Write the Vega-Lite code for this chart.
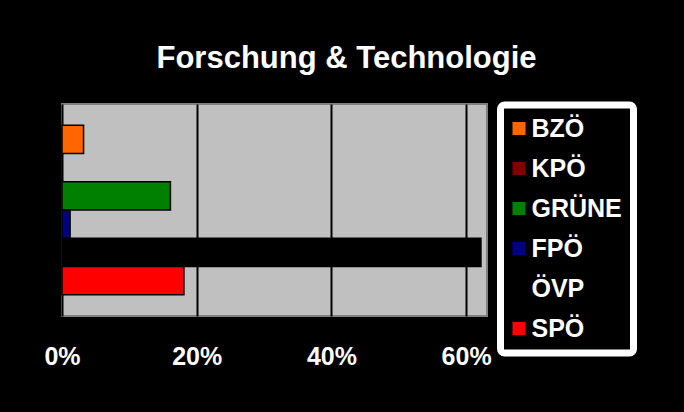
{
  "$schema": "https://vega.github.io/schema/vega-lite/v6.json",
  "autosize": "none",
  "width": 425,
  "height": 212,
  "padding": {"left": 62, "top": 104, "right": 197, "bottom": 96},
  "background": "#000000",
  "title": {
    "text": "Forschung & Technologie",
    "color": "#FFFFFF",
    "font": "Liberation Sans",
    "fontWeight": "bold",
    "fontSize": 31,
    "anchor": "middle",
    "dx": 72,
    "offset": 27
  },
  "data": {
    "values": [
      {"party": "BZÖ", "value": 0.032},
      {"party": "KPÖ", "value": 0.0},
      {"party": "GRÜNE", "value": 0.161},
      {"party": "FPÖ", "value": 0.012},
      {"party": "ÖVP", "value": 0.622},
      {"party": "SPÖ", "value": 0.181}
    ]
  },
  "mark": {"type": "bar", "stroke": "#000000", "strokeWidth": 1.5},
  "encoding": {
    "x": {
      "field": "value",
      "type": "quantitative",
      "scale": {"domain": [0, 0.631], "nice": false},
      "axis": {
        "values": [0, 0.2, 0.4, 0.6],
        "format": ".0%",
        "title": null,
        "domain": false,
        "ticks": false,
        "grid": true,
        "gridColor": "#000000",
        "gridWidth": 2,
        "gridOpacity": 1,
        "labelFlush": false,
        "labelColor": "#FFFFFF",
        "labelFont": "Liberation Sans",
        "labelFontWeight": "bold",
        "labelFontSize": 25,
        "labelPadding": 28,
        "labelBaseline": "top"
      }
    },
    "y": {
      "field": "party",
      "type": "nominal",
      "sort": ["BZÖ", "KPÖ", "GRÜNE", "FPÖ", "ÖVP", "SPÖ"],
      "scale": {"paddingInner": 0, "paddingOuter": 0.75},
      "axis": null
    },
    "color": {
      "field": "party",
      "type": "nominal",
      "scale": {
        "domain": ["BZÖ", "KPÖ", "GRÜNE", "FPÖ", "ÖVP", "SPÖ"],
        "range": ["#FF6600", "#800000", "#008000", "#000080", "#000000", "#FF0000"]
      },
      "legend": {
        "title": null,
        "orient": "none",
        "legendX": 438.5,
        "legendY": 1,
        "fillColor": "#000000",
        "strokeColor": "#FFFFFF",
        "cornerRadius": 4,
        "padding": 11,
        "symbolType": "square",
        "symbolSize": 169,
        "symbolStrokeWidth": 0,
        "symbolOpacity": 1,
        "symbolOffset": -5,
        "labelFont": "Liberation Sans",
        "labelFontWeight": "bold",
        "labelFontSize": 25,
        "labelColor": "#FFFFFF",
        "labelOffset": 0,
        "rowPadding": 14
      }
    }
  },
  "config": {
    "view": {"fill": "#C0C0C0", "stroke": "#808080", "strokeWidth": 2},
    "legend": {"strokeWidth": 7}
  }
}
